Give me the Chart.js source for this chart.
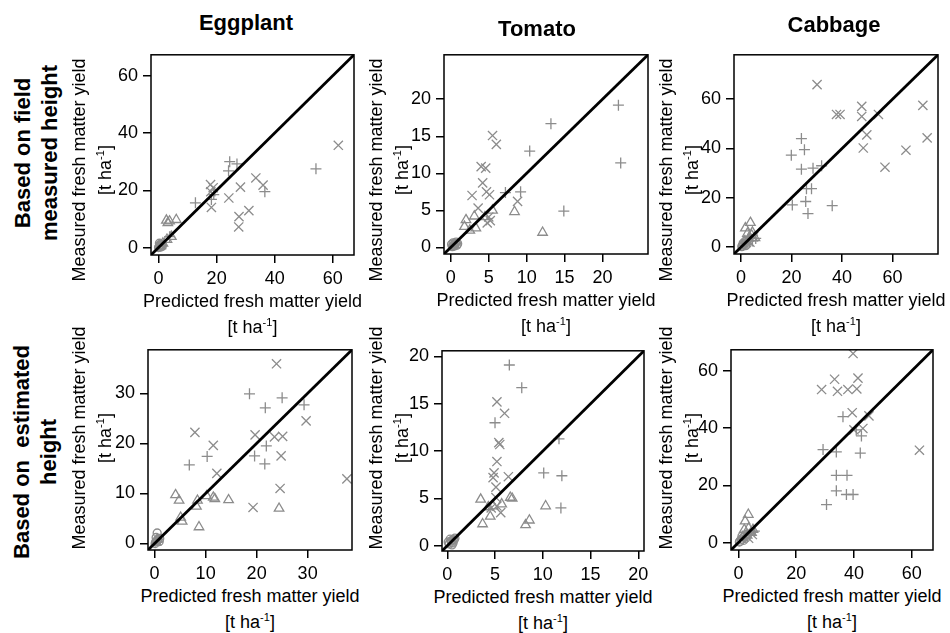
<!DOCTYPE html>
<html>
<head>
<meta charset="utf-8">
<script src="https://cdn.jsdelivr.net/npm/chart.js@4.4.0/dist/chart.umd.min.js"></script>
<style>
  body { margin: 0; background: #fff; }
  #page { position: relative; width: 950px; height: 633px; overflow: hidden; font-family: "Liberation Sans", Arial, sans-serif; color: #000; }
  #page canvas { position: absolute; }
  .txt { position: absolute; white-space: pre; text-align: center; transform: translate(-50%, -50%); }
  .rot { transform: translate(-50%, -50%) rotate(-90deg); }
  .head { font-weight: bold; font-size: 22px; line-height: 27px; }
  .axis { font-size: 18px; line-height: 26px; }
  sup { font-size: 11px; line-height: 0; vertical-align: 7px; }
</style>
</head>
<body>
<div id="page"></div>
<script>
// tick labels
const ticks0to60 = [0, 20, 40, 60];
const ticks0to20 = [0, 5, 10, 15, 20];
const ticks0to30 = [0, 10, 20, 30];

// data: [predicted, measured] pairs, one list per marker type

// Eggplant, based on field measured height
const eggFieldPlus = [[54.2, 27.5], [24.5, 30.0], [27.0, 29.2], [24.1, 26.8], [36.6, 19.5], [12.7, 15.6], [18.2, 16.8], [19.0, 18.5], [3.8, 3.8]];
const eggFieldCross = [[61.9, 35.7], [33.5, 24.3], [36.0, 21.8], [28.2, 21.1], [17.9, 22.0], [18.8, 20.9], [18.0, 19.5], [24.2, 17.3], [18.2, 14.0], [31.1, 12.9], [27.7, 10.8], [27.6, 7.2]];
const eggFieldTri = [[2.7, 9.5], [3.8, 9.2], [6.1, 9.7], [3.2, 8.6], [4.4, 3.8], [2.9, 2.8], [1.5, 1.5], [0.8, 0.6]];
const eggFieldCirc = [[0.0, 0.0], [0.2, 0.3], [0.5, 0.8], [0.8, 0.2], [1.0, 1.2], [0.3, 1.5], [1.3, 0.5], [0.6, 0.4], [0.9, 0.9], [0.4, 1.0]];

// Tomato, based on field measured height
const tomFieldPlus = [[22.1, 19.2], [13.2, 16.7], [10.4, 13.0], [22.4, 11.4], [7.2, 7.4], [9.2, 7.5], [14.9, 4.9]];
const tomFieldCross = [[5.5, 15.1], [6.0, 13.9], [4.0, 10.9], [4.6, 10.7], [4.2, 8.7], [4.7, 7.5], [5.1, 7.1], [2.8, 7.0], [3.6, 5.3], [8.8, 6.2], [5.0, 4.1], [5.2, 3.6], [4.8, 3.3]];
const tomFieldTri = [[8.4, 4.8], [12.1, 2.0], [2.0, 3.7], [3.1, 4.2], [2.5, 2.3], [3.3, 2.6], [5.5, 5.0], [4.5, 4.1], [1.8, 2.8]];
const tomFieldCirc = [[0.2, 0.1], [0.4, 0.3], [0.6, 0.5], [0.3, 0.6], [0.8, 0.3], [0.5, 0.2], [0.1, 0.4], [0.7, 0.7], [0.45, 0.45], [0.9, 0.5], [0.35, 0.2]];

// Cabbage, based on field measured height
const cabFieldPlus = [[23.9, 44.0], [25.1, 39.5], [19.9, 37.3], [23.9, 31.6], [28.5, 32.0], [31.9, 33.0], [25.9, 23.7], [27.9, 23.7], [25.6, 18.5], [20.3, 17.1], [36.1, 16.8], [26.5, 13.6], [4.5, 2.5], [5.8, 3.5]];
const cabFieldCross = [[30.1, 65.9], [47.8, 57.1], [72.0, 57.5], [37.8, 53.8], [39.2, 53.8], [47.8, 53.0], [54.4, 53.8], [49.8, 45.5], [73.7, 44.3], [48.4, 40.2], [65.3, 39.3], [57.0, 32.4], [3.5, 2.0], [5.0, 4.2]];
const cabFieldTri = [[1.7, 7.7], [3.7, 9.9], [2.5, 5.5], [4.2, 4.8], [3.0, 3.5], [5.5, 3.8], [1.5, 2.5], [4.5, 6.0]];
const cabFieldCirc = [[0.3, 0.2], [0.5, 0.5], [1.2, 1.0], [2.0, 1.8], [0.8, 1.5], [1.8, 0.6], [3.0, 2.5], [2.4, 1.2], [1.5, 2.3]];

// Eggplant, based on estimated height
const eggEstPlus = [[18.6, 29.9], [25.0, 29.1], [21.7, 27.1], [29.3, 27.7], [21.9, 19.5], [19.6, 17.5], [21.6, 15.9], [10.3, 17.4], [6.8, 15.7]];
const eggEstCross = [[23.9, 35.9], [29.7, 24.5], [37.7, 12.9], [7.9, 22.2], [11.5, 19.6], [19.7, 21.7], [23.5, 21.3], [25.1, 21.4], [24.8, 17.5], [12.2, 14.0], [24.6, 11.0], [19.3, 7.2]];
const eggEstTri = [[4.1, 9.7], [4.8, 8.6], [8.4, 8.6], [10.2, 9.5], [11.5, 9.2], [11.8, 8.9], [14.5, 8.7], [8.2, 7.4], [5.1, 5.2], [5.4, 4.4], [8.7, 3.3], [24.4, 7.0], [0.5, 0.8], [0.3, 0.3]];
const eggEstCirc = [[0.5, 2.1], [0.1, 0.0], [0.2, 0.3], [0.6, 0.8], [0.9, 0.4], [0.3, 1.2], [1.0, 1.0], [0.5, 0.5]];

// Tomato, based on estimated height
const tomEstPlus = [[6.5, 19.1], [7.8, 16.7], [5.0, 13.0], [11.7, 11.3], [10.1, 7.7], [12.0, 7.4], [11.9, 4.0]];
const tomEstCross = [[5.2, 15.2], [6.0, 14.0], [5.4, 10.9], [5.5, 10.7], [5.2, 8.9], [4.9, 7.7], [4.8, 7.2], [6.4, 7.3], [5.1, 6.2], [5.1, 5.1], [5.2, 4.2], [5.6, 3.5], [4.6, 4.0]];
const tomEstTri = [[3.5, 4.9], [4.3, 4.1], [4.8, 4.2], [5.7, 4.4], [6.6, 5.1], [6.8, 5.0], [10.3, 4.2], [4.5, 3.1], [3.7, 2.3], [8.2, 2.2], [8.6, 2.7]];
const tomEstCirc = [[0.2, 0.2], [0.4, 0.5], [0.6, 0.3], [0.3, 0.7], [0.7, 0.6], [0.5, 0.1], [0.1, 0.4], [0.8, 0.8], [0.45, 0.35], [0.6, 0.65]];

// Cabbage, based on estimated height
const cabEstPlus = [[36.2, 44.0], [42.6, 37.3], [40.8, 39.4], [29.3, 32.5], [33.9, 31.7], [42.2, 31.3], [33.9, 23.5], [37.6, 23.5], [33.9, 18.1], [37.4, 16.8], [39.7, 16.8], [30.5, 13.3], [4.0, 3.0], [5.5, 4.0]];
const cabEstCross = [[39.7, 66.1], [33.3, 57.1], [41.4, 57.5], [28.8, 53.5], [34.3, 52.9], [37.9, 53.5], [41.0, 53.7], [39.4, 45.4], [45.2, 44.3], [43.1, 39.9], [40.0, 39.4], [62.7, 32.3], [3.5, 1.5], [4.8, 2.8]];
const cabEstTri = [[3.4, 9.8], [2.3, 7.5], [2.0, 4.5], [3.5, 5.0], [4.5, 3.5], [1.5, 2.0], [3.0, 2.5], [5.0, 4.5]];
const cabEstCirc = [[0.3, 0.2], [0.5, 0.5], [1.0, 1.2], [1.8, 0.8], [2.5, 1.5], [1.2, 2.2], [3.0, 3.0], [2.0, 2.0]];

const GRAY = '#8c8c8c';
const ML = 45, PT = 12, PR = 12, MB = 30;

const panels = [
  { box: [151, 51, 354, 255], lim: [-2.6, 67.3], ticks: ticks0to60, sets: [eggFieldPlus, eggFieldCross, eggFieldTri, eggFieldCirc] },
  { box: [444, 51, 648, 254], lim: [-0.9, 26.0], ticks: ticks0to20, sets: [tomFieldPlus, tomFieldCross, tomFieldTri, tomFieldCirc] },
  { box: [734, 51, 938, 254], lim: [-2.8, 78.0], ticks: ticks0to60, sets: [cabFieldPlus, cabFieldCross, cabFieldTri, cabFieldCirc] },
  { box: [148, 346, 352, 550], lim: [-1.3, 38.7], ticks: ticks0to30, sets: [eggEstPlus, eggEstCross, eggEstTri, eggEstCirc] },
  { box: [442, 347, 644, 551], lim: [-0.55, 20.6], ticks: ticks0to20, sets: [tomEstPlus, tomEstCross, tomEstTri, tomEstCirc] },
  { box: [731, 346, 933, 550], lim: [-2.6, 67.4], ticks: ticks0to60, sets: [cabEstPlus, cabEstCross, cabEstTri, cabEstCirc] }
];

const markers = [
  { style: 'cross', radius: 5.5 },
  { style: 'crossRot', radius: 6.5 },
  { style: 'triangle', radius: 5.5 },
  { style: 'circle', radius: 4 }
];

Chart.defaults.font.family = '"Liberation Sans", Arial, sans-serif';
Chart.defaults.font.size = 18;
Chart.defaults.color = '#000';

const frame = {
  id: 'frame',
  afterDraw(chart) {
    const a = chart.chartArea, ctx = chart.ctx;
    ctx.save();
    ctx.strokeStyle = '#000';
    ctx.lineWidth = 1.5;
    ctx.strokeRect(a.left, a.top, a.right - a.left, a.bottom - a.top);
    ctx.restore();
  }
};

const page = document.getElementById('page');

function axis(p) {
  return {
    type: 'linear', min: p.lim[0], max: p.lim[1],
    grid: { drawOnChartArea: false, drawTicks: true, tickLength: 8, color: '#000', lineWidth: 1.5 },
    border: { display: false },
    ticks: { padding: 5, color: '#000' },
    afterBuildTicks: s => { s.ticks = p.ticks.map(v => ({ value: v })); }
  };
}

panels.forEach(p => {
  const [l, t, r, b] = p.box;
  const c = document.createElement('canvas');
  const w = r - l + ML + PR, h = b - t + PT + MB;
  c.width = w; c.height = h;
  c.style.left = (l - ML) + 'px';
  c.style.top = (t - PT) + 'px';
  c.style.width = w + 'px'; c.style.height = h + 'px';
  page.appendChild(c);

  const xs = axis(p), ys = axis(p);
  xs.afterFit = s => { s.height = MB; };
  ys.afterFit = s => { s.width = ML; };

  // 1:1 line first so it is drawn on top of the points
  const datasets = [{
    type: 'line',
    data: [{ x: p.lim[0], y: p.lim[0] }, { x: p.lim[1], y: p.lim[1] }],
    borderColor: '#000', borderWidth: 2.8, pointRadius: 0, clip: 0
  }];
  p.sets.forEach((pts, i) => {
    datasets.push({
      type: 'scatter',
      data: pts.map(d => ({ x: d[0], y: d[1] })),
      pointStyle: markers[i].style,
      pointRadius: markers[i].radius,
      borderColor: GRAY,
      backgroundColor: 'rgba(0,0,0,0)',
      pointBorderWidth: 1.3
    });
  });

  new Chart(c, {
    type: 'scatter',
    data: { datasets },
    options: {
      responsive: false, animation: false, events: [],
      layout: { padding: { top: PT, right: PR, left: 0, bottom: 0 } },
      plugins: { legend: { display: false }, tooltip: { enabled: false } },
      scales: { x: xs, y: ys }
    },
    plugins: [frame]
  });
});

// text
function label(html, x, y, cls) {
  const d = document.createElement('div');
  d.className = 'txt ' + cls;
  d.innerHTML = html;
  d.style.left = x + 'px';
  d.style.top = y + 'px';
  page.appendChild(d);
}

const columnTitles = ['Eggplant', 'Tomato', 'Cabbage'];
const rowTitles = ['Based on field\nmeasured height', 'Based on  estimated\nheight'];
const yTitle = 'Measured fresh matter yield\n[t ha<sup>-1</sup>]';
const xTitle = 'Predicted fresh matter yield\n[t ha<sup>-1</sup>]';

label(columnTitles[0], 246, 22, 'head');
label(columnTitles[1], 537, 28, 'head');
label(columnTitles[2], 834, 24, 'head');
label(rowTitles[0], 36, 153, 'head rot');
label(rowTitles[1], 35, 452, 'head rot');

[92, 389, 679].forEach(x => {
  label(yTitle, x, 170, 'axis rot');
  label(yTitle, x, 438, 'axis rot');
});
panels.forEach(p => {
  const cx = (p.box[0] + p.box[2]) / 2;
  label(xTitle, cx, p.box[3] + 59, 'axis');
});
</script>
</body>
</html>
